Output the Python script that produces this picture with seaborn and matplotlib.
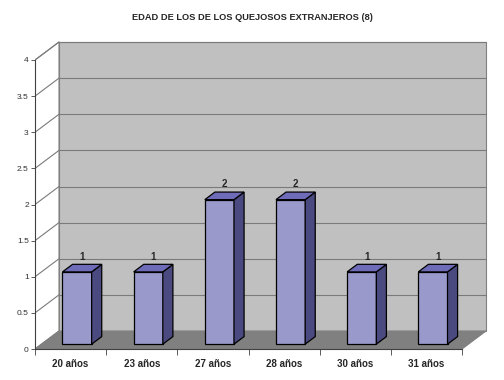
import numpy as np
import pandas as pd
import matplotlib
matplotlib.use('Agg')
import matplotlib.pyplot as plt
import seaborn as sns
from matplotlib.patches import Polygon

edades = ['20 años', '23 años', '27 años', '28 años', '30 años', '31 años']
quejosos = [1, 1, 2, 2, 1, 1]
yticks = [0, 0.5, 1, 1.5, 2, 2.5, 3, 3.5, 4]
ytick_labels = ['0', '0.5', '1', '1.5', '2', '2.5', '3', '3.5', '4']
titulo = 'EDAD DE LOS DE LOS QUEJOSOS EXTRANJEROS (8)'

sns.set_style('white')
plt.rcParams['font.family'] = ['Liberation Sans', 'DejaVu Sans']

fig = plt.figure(figsize=(5.04, 3.80), dpi=100)
ax = fig.add_axes([35/504, 31/380, 455/504, 309/380])
ax.set_facecolor('none')

df = pd.DataFrame({'edad': edades, 'n': quejosos})
sns.barplot(data=df, x='edad', y='n', color='#9a99cc', width=0.41, saturation=1,
            edgecolor='black', linewidth=0.9, ax=ax, zorder=5)

ax.set_xlim(-0.5, -0.5 + 455/71.17)
ax.set_ylim(0, 309/72.25)

# profundidad del efecto 3D en unidades de datos
dx, dy = 24/71.17, 18/72.25
f0, f1 = 0.27, 0.69
n = len(edades)
x_ini, x_fin = -0.5, n - 0.5
ytop = yticks[-1]

# pared del fondo, pared lateral y suelo
ax.add_patch(Polygon([(x_ini+dx, dy), (x_fin+dx, dy), (x_fin+dx, ytop+dy), (x_ini+dx, ytop+dy)],
                     closed=True, facecolor='#c0c0c0', edgecolor='#808080', lw=0.8, zorder=0))
ax.add_patch(Polygon([(x_ini, 0), (x_ini+dx, dy), (x_ini+dx, ytop+dy), (x_ini, ytop)],
                     closed=True, facecolor='white', edgecolor='#808080', lw=0.8, zorder=0))
ax.add_patch(Polygon([(x_ini, 0), (x_fin, 0), (x_fin+dx, dy), (x_ini+dx, dy)],
                     closed=True, facecolor='#808080', edgecolor='#808080', lw=0.8, zorder=1))

for v in yticks[1:]:
    ax.plot([x_ini+dx, x_fin+dx], [v+dy, v+dy], color='#7a7a7a', lw=0.8, zorder=2)
    ax.plot([x_ini, x_ini+dx], [v, v+dy], color='#7a7a7a', lw=0.8, zorder=2)

# barras con cara lateral y superior
bars = list(ax.containers[0])
d = f1 - f0
for p, val in zip(bars, quejosos):
    x0 = p.get_x() + f0*dx
    y0 = f0*dy
    w = p.get_width()
    h = p.get_height()
    p.set_x(x0)
    p.set_y(y0)
    top = y0 + h
    ax.add_patch(Polygon([(x0+w, y0), (x0+w+d*dx, y0+d*dy), (x0+w+d*dx, top+d*dy), (x0+w, top)],
                         closed=True, facecolor='#4b4a80', edgecolor='black', lw=0.9, zorder=5))
    ax.add_patch(Polygon([(x0, top), (x0+w, top), (x0+w+d*dx, top+d*dy), (x0+d*dx, top+d*dy)],
                         closed=True, facecolor='#6e6cb8', edgecolor='black', lw=0.9, zorder=5))
    ax.annotate(str(val), (x0 + w/2 + d*dx/2, top + d*dy), xytext=(0, 2), textcoords='offset points',
                ha='center', va='bottom', fontsize=7, fontweight='bold', zorder=6)

# ejes
sns.despine(ax=ax, top=True, right=True)
ax.spines['left'].set_bounds(0, ytop)
ax.spines['bottom'].set_bounds(x_ini, x_fin)
for s in ['left', 'bottom']:
    ax.spines[s].set_color('#404040')
    ax.spines[s].set_linewidth(0.8)
    ax.spines[s].set_zorder(3)

ax.set_yticks(yticks, ytick_labels)
ax.tick_params(axis='y', direction='out', length=3, width=0.6, color='#404040',
               labelsize=6, labelcolor='#303030', pad=1.5, left=True)
ax.set_xticks(range(n), edades)
ax.set_xticks(np.arange(x_ini, x_fin + 0.01, 1), minor=True)
ax.tick_params(axis='x', which='major', length=0, labelsize=7, pad=7)
ax.tick_params(axis='x', which='minor', direction='out', length=4, width=0.6, color='#404040', bottom=True)
for lbl in ax.get_xticklabels():
    lbl.set_fontweight('bold')
ax.set_xlabel('')
ax.set_ylabel('')

fig.text(0.5, 1 - 17/380, titulo, ha='center', va='center', fontsize=6.7, fontweight='bold')

fig.savefig('out.png', dpi=100)
